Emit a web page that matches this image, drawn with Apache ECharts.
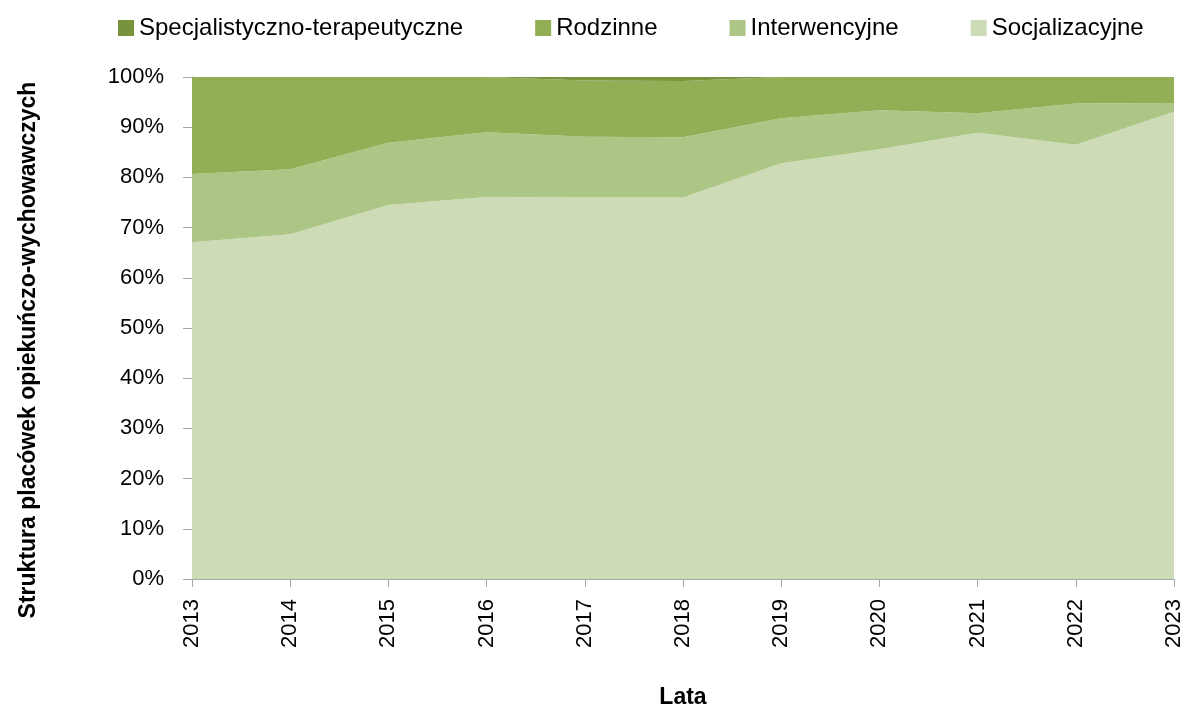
<!DOCTYPE html>
<html>
<head>
<meta charset="utf-8">
<script src="https://cdn.jsdelivr.net/npm/echarts@6/dist/echarts.min.js"></script>
<style>
html,body{margin:0;padding:0;background:#fff;}
#chart{width:1188px;height:709px;}
</style>
</head>
<body>
<div id="chart"></div>
<script>
const years = ['2013','2014','2015','2016','2017','2018','2019','2020','2021','2022','2023'];
const socjalizacyjne = [67.1, 68.7, 74.5, 76.1, 76.0, 76.0, 82.8, 85.6, 88.9, 86.5, 93.1];
const interwencyjne = [13.6, 12.9, 12.4, 12.9, 12.1, 12.0, 9.0, 7.8, 3.9, 8.2, 1.7];
const rodzinne = [19.3, 18.4, 13.1, 11.0, 11.2, 11.2, 8.2, 6.6, 7.2, 5.3, 5.2];
const specjalistyczne = [0, 0, 0, 0, 0.7, 0.8, 0, 0, 0, 0, 0];
const yTicks = [0,10,20,30,40,50,60,70,80,90,100];

const font = "'Liberation Sans',Arial,sans-serif";

function areaSeries(name, data, color) {
  return {
    name: name, type: 'line', stack: 'total', data: data,
    symbol: 'none', showSymbol: false,
    lineStyle: {width: 0}, itemStyle: {color: color},
    areaStyle: {color: color, opacity: 1}
  };
}

const chart = echarts.init(document.getElementById('chart'), null, {renderer: 'canvas'});
chart.setOption({
  animation: false,
  backgroundColor: '#ffffff',
  grid: {left: 192, right: 14, top: 77, bottom: 130, containLabel: false, outerBoundsMode: 'none'},
  legend: {
    top: 11, left: 113,
    itemWidth: 16, itemHeight: 16, itemGap: 72,
    icon: 'rect',
    textStyle: {fontFamily: font, fontSize: 24, color: '#000'},
    data: ['Specjalistyczno-terapeutyczne','Rodzinne','Interwencyjne','Socjalizacyjne']
  },
  xAxis: {
    type: 'category', data: years, boundaryGap: false,
    name: 'Lata', nameLocation: 'middle', nameGap: 107,
    nameTextStyle: {fontFamily: font, fontSize: 23, fontWeight: 'bold', color: '#000'},
    axisLine: {lineStyle: {color: '#a6a6a6', width: 1}},
    axisTick: {alignWithLabel: true, length: 8, lineStyle: {color: '#a6a6a6'}},
    axisLabel: {rotate: 90, fontFamily: font, fontSize: 22, color: '#000', margin: 20}
  },
  yAxis: {
    type: 'value', min: 0, max: 100, interval: 10,
    name: 'Struktura placówek opiekuńczo-wychowawczych', nameLocation: 'middle', nameGap: 152,
    nameTextStyle: {fontFamily: font, fontSize: 23, fontWeight: 'bold', color: '#000', padding: [0, 44, 0, 0]},
    axisLine: {show: true, lineStyle: {color: '#a6a6a6', width: 1}},
    axisTick: {show: true, length: 9, lineStyle: {color: '#a6a6a6'}},
    splitLine: {show: false},
    axisLabel: {fontFamily: font, fontSize: 22, color: '#000', margin: 28,
      formatter: function(v){ return yTicks.indexOf(v) >= 0 ? v + '%' : ''; }}
  },
  series: [
    areaSeries('Socjalizacyjne', socjalizacyjne, '#cddbb7'),
    areaSeries('Interwencyjne', interwencyjne, '#adc686'),
    areaSeries('Rodzinne', rodzinne, '#92af56'),
    areaSeries('Specjalistyczno-terapeutyczne', specjalistyczne, '#77933c')
  ]
});
</script>
</body>
</html>
